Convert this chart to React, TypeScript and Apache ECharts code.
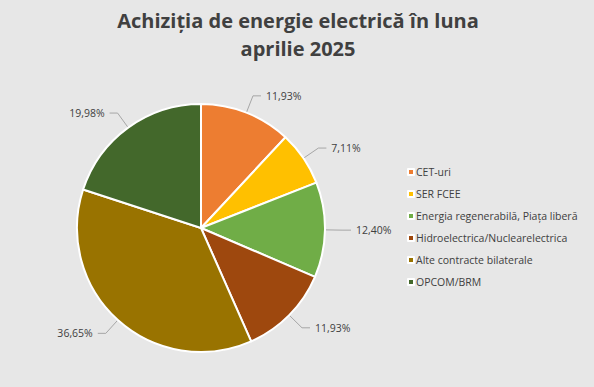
import React, { useEffect, useRef } from "react";
import * as echarts from "echarts";

const categories = [
  "CET-uri",
  "SER FCEE",
  "Energia regenerabilă, Piața liberă",
  "Hidroelectrica/Nuclearelectrica",
  "Alte contracte bilaterale",
  "OPCOM/BRM",
];
const values = [11.93, 7.11, 12.4, 11.93, 36.65, 19.98];
const colors = ["#ED7D31", "#FFC000", "#70AD47", "#9E480E", "#997300", "#43682B"];
const titleLines = ["Achiziția de energie electrică în luna", "aprilie 2025"];

export default function App() {
  const ref = useRef<HTMLDivElement>(null);
  useEffect(() => {
    document.body.style.margin = "0";
    const chart = echarts.init(ref.current!, null, { renderer: "svg" });
    chart.setOption({
      animation: false,
      backgroundColor: "#e7e7e7",
      title: {
        text: titleLines.join("\n"),
        left: 298,
        textAlign: "center",
        top: 6,
        padding: 0,
        textStyle: {
          fontFamily: "Open Sans",
          fontWeight: "bold",
          fontSize: 20,
          lineHeight: 28,
          color: "#404040",
        },
      },
      legend: {
        orient: "vertical",
        left: 407,
        top: 165,
        padding: 0,
        itemWidth: 6,
        itemHeight: 6,
        itemGap: 8,
        icon: "rect",
        textStyle: { fontFamily: "Open Sans", fontSize: 10.5, color: "#404040", lineHeight: 14, padding: [0, 0, 0, -3] },
        data: categories,
      },
      series: [
        {
          type: "pie",
          center: [201, 228],
          radius: 124,
          startAngle: 90,
          clockwise: true,
          itemStyle: { borderColor: "#ffffff", borderWidth: 2 },
          label: {
            position: "outside",
            formatter: (p: any) => p.value.toFixed(2).replace(".", ",") + "%",
            fontFamily: "Open Sans",
            fontSize: 10.5,
            color: "#404040",
          },
          labelLine: { length: 18, length2: 8, lineStyle: { color: "#a6a6a6", width: 1 } },
          data: categories.map((c, i) => ({ name: c, value: values[i], itemStyle: { color: colors[i] } })),
        },
      ],
    });
    return () => chart.dispose();
  }, []);
  return <div ref={ref} style={{ width: 594, height: 387 }} />;
}
